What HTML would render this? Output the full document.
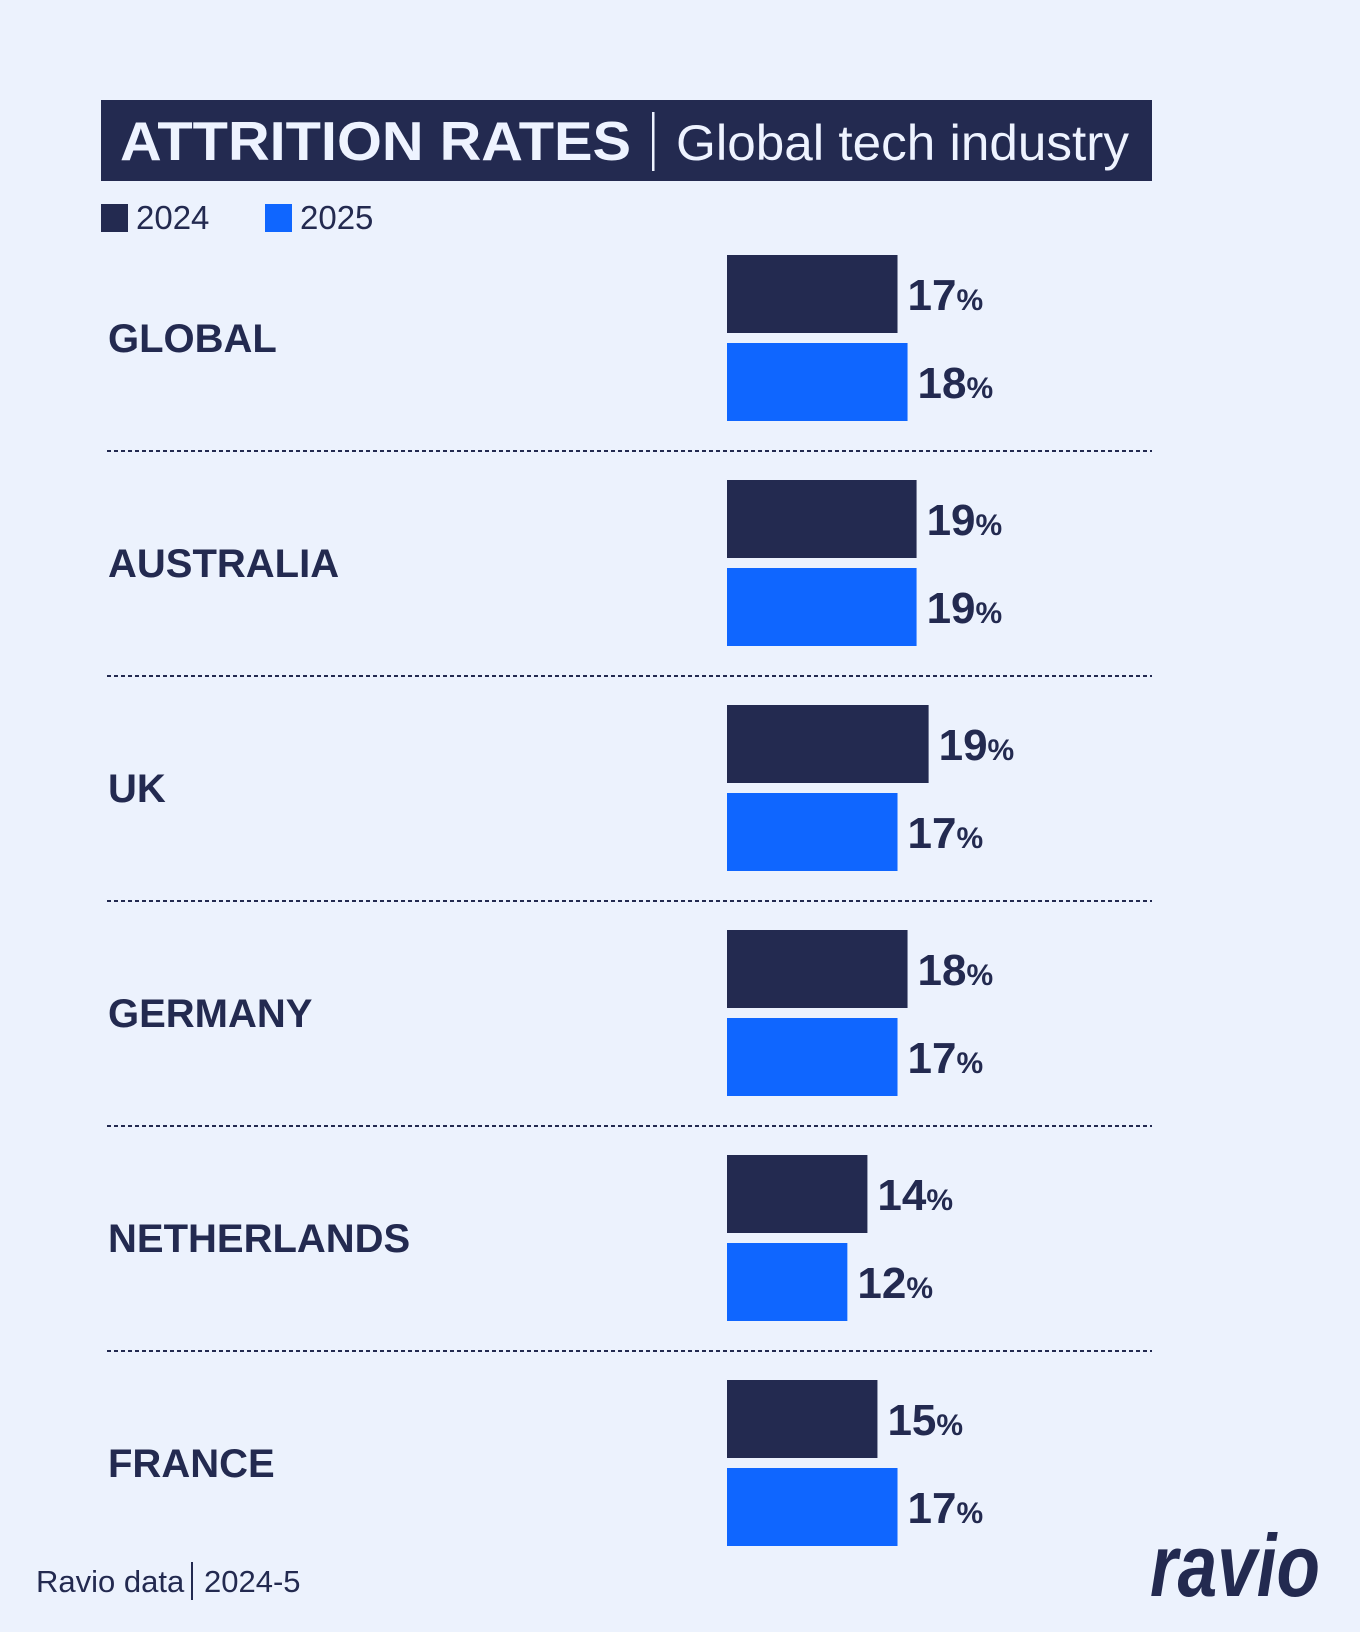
<!DOCTYPE html>
<html><head><meta charset="utf-8"><style>
body{margin:0;width:1360px;height:1632px;background:#ecf2fd;overflow:hidden;font-family:"Liberation Sans",sans-serif;color:#232a50}
#c{position:absolute;left:0;top:0}
</style></head><body>
<svg id="c" width="1360" height="1632">
<rect x="101" y="100" width="1051" height="81" fill="#232a50"/>
<text x="120" y="160" font-size="55" font-weight="bold" fill="#eef3ff" textLength="511" lengthAdjust="spacingAndGlyphs">ATTRITION RATES</text>
<rect x="652" y="112" width="2.5" height="59" fill="#eef3ff"/>
<text x="676" y="160" font-size="50" fill="#eef3ff" textLength="453" lengthAdjust="spacingAndGlyphs">Global tech industry</text>
<rect x="101" y="204" width="27" height="28" fill="#232a50"/>
<text x="136" y="229" font-size="33" fill="#232a50">2024</text>
<rect x="265" y="204" width="27" height="28" fill="#0f66ff"/>
<text x="300" y="229" font-size="33" fill="#232a50">2025</text>
<g id="bars"></g>
<text x="36" y="1592" font-size="31" fill="#232a50">Ravio data</text>
<rect x="191" y="1562" width="2" height="38" fill="#232a50"/>
<text x="204" y="1592" font-size="31" fill="#232a50">2024-5</text>
<text x="1150" y="1596" font-size="88" font-weight="bold" font-style="italic" fill="#232a50" textLength="170" lengthAdjust="spacingAndGlyphs">ravio</text>
</svg>
<script>
const categories=["GLOBAL","AUSTRALIA","UK","GERMANY","NETHERLANDS","FRANCE"];
const values2024=[17,18.9,20.1,18,14,15];
const values2025=[18,18.9,17,17,12,17];
const labels2024=["17","19","19","18","14","15"];
const labels2025=["18","19","17","17","12","17"];
const NS="http://www.w3.org/2000/svg";
const g=document.getElementById('bars');
const x0=727,pxPer=10.03,rowTop=255,rowH=225,barH=78,gap=10;
const xs=v=>x0+v*pxPer;
function mk(t,a){const e=document.createElementNS(NS,t);for(const k in a)e.setAttribute(k,a[k]);g.appendChild(e);return e;}
categories.forEach((c,i)=>{
  const top=rowTop+i*rowH;
  const lab=mk('text',{x:108,y:top+97,"font-size":40,"font-weight":"bold",fill:"#232a50"});
  lab.textContent=c;
  
  
  [[values2024,labels2024,"#232a50",0],[values2025,labels2025,"#0f66ff",1]].forEach(([vals,labs,col,k])=>{
    const y=top+k*(barH+gap);
    const r=mk('rect',{x:x0,y:y,width:xs(vals[i])-x0,height:barH,fill:col});
    
    
    const t=mk('text',{x:xs(vals[i])+10,y:y+barH/2+16,"font-size":44,"font-weight":"bold",fill:"#232a50"});
    
    
    t.innerHTML=labs[i]+'<tspan font-size="30">%</tspan>';
  });
  if(i<categories.length-1){
    const l=mk('line',{x1:107,x2:1152,y1:top+196,y2:top+196,stroke:"#232a50","stroke-width":2,"stroke-dasharray":"4 3"});
    
    
  }
});
</script>
</body></html>
